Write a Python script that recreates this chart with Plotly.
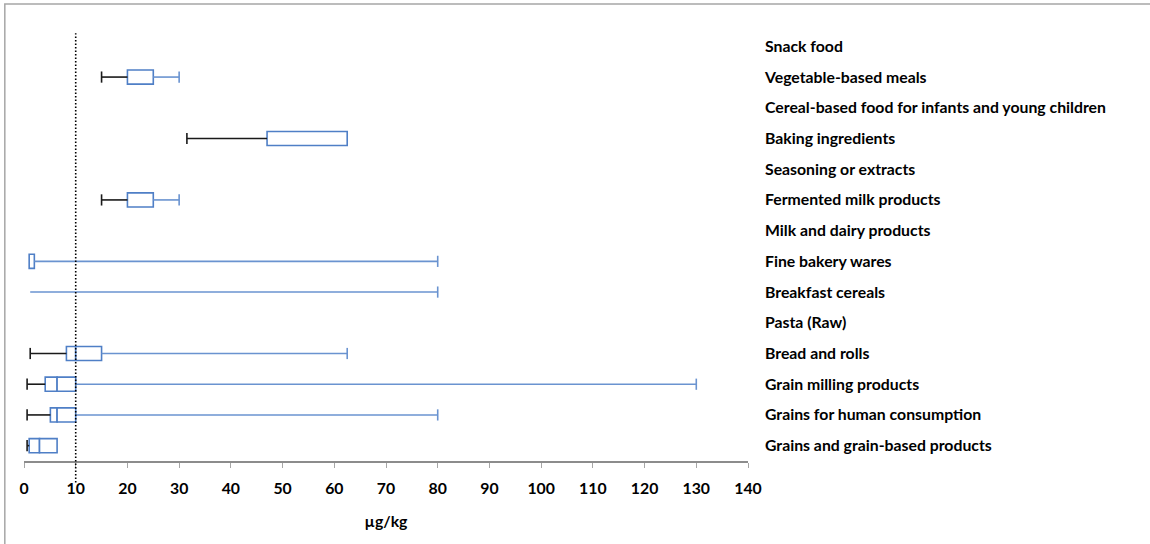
import plotly.graph_objects as go

# Food categories, listed from the bottom row to the top row
categories = [
    "Grains and grain-based products",
    "Grains for human consumption",
    "Grain milling products",
    "Bread and rolls",
    "Pasta (Raw)",
    "Breakfast cereals",
    "Fine bakery wares",
    "Milk and dairy products",
    "Fermented milk products",
    "Seasoning or extracts",
    "Baking ingredients",
    "Cereal-based food for infants and young children",
    "Vegetable-based meals",
    "Snack food",
]

# Summary statistics (µg/kg); None where a value is not reported
minimum = [0.6, 0.6, 0.6, 1.2, None, None, None, None, 15, None, 31.5, None, 15, None]
q1 = [1.0, 5.1, 4.1, 8.2, None, 1.2, 1.0, None, 20, None, 47, None, 20, None]
median = [3.0, 6.4, 6.4, 10, None, 1.2, 1.0, None, 20, None, 47, None, 20, None]
q3 = [6.4, 10, 10, 15, None, 1.2, 2.0, None, 25, None, 62.5, None, 25, None]
maximum = [None, 80, 130, 62.5, None, 80, 80, None, 30, None, None, None, 30, None]

threshold = 10

BOX_LINE = "#4f7fc6"
UPPER = "#6a93d0"
LOWER = "#1a1a1a"
FONT = "Lato"
LABEL_SIZE = 15.8


def span(lo, hi):
    """Width of a segment, or None when it is missing or empty."""
    if lo is None or hi is None or hi - lo <= 0:
        return None
    return hi - lo


fig = go.Figure()

# Box halves: Q1 -> median and median -> Q3
for lo_vals, hi_vals in ((q1, median), (median, q3)):
    widths = [span(a, b) for a, b in zip(lo_vals, hi_vals)]
    fig.add_trace(go.Bar(
        y=categories, x=widths, base=lo_vals, orientation="h",
        width=0.46,
        marker=dict(color="white", line=dict(color=BOX_LINE, width=1.6)),
        showlegend=False, hoverinfo="skip",
    ))


def whisker(starts, ends, cap_at, color):
    xs, ys, cx, cy = [], [], [], []
    for cat, a, b, c in zip(categories, starts, ends, cap_at):
        if a is None or b is None or b == a:
            continue
        xs += [a, b, None]
        ys += [cat, cat, None]
        cx.append(c)
        cy.append(cat)
    fig.add_trace(go.Scatter(
        x=xs, y=ys, mode="lines", line=dict(color=color, width=1.6),
        showlegend=False, hoverinfo="skip",
    ))
    fig.add_trace(go.Scatter(
        x=cx, y=cy, mode="markers",
        marker=dict(symbol="line-ns", size=8, line=dict(color=color, width=1.6)),
        showlegend=False, hoverinfo="skip",
    ))


# Lower whisker (min -> Q1) and upper whisker (Q3 -> max)
whisker(minimum, q1, minimum, LOWER)
whisker(q3, maximum, maximum, UPPER)

# Reference level
fig.add_shape(type="line", xref="x", yref="paper",
              x0=threshold, x1=threshold, y0=-0.05, y1=0.995,
              line=dict(color="black", width=1.6, dash="1.5px,2px"), layer="above")

# Outer chart frame
fig.add_shape(type="rect", xref="paper", yref="paper",
              x0=-0.0265, x1=1.7, y0=-0.3, y1=1.063,
              line=dict(color="#a6a6a6", width=1.5), fillcolor="rgba(0,0,0,0)",
              layer="below")

bold = dict(family=FONT, size=LABEL_SIZE, color="black", weight="bold")

fig.update_layout(
    width=1150, height=544,
    margin=dict(l=24, r=402, t=31, b=83),
    paper_bgcolor="white", plot_bgcolor="white",
    barmode="overlay",
    font=dict(family=FONT, size=LABEL_SIZE, color="black"),
    xaxis=dict(
        range=[0, 140], dtick=10, tick0=0,
        showgrid=False, zeroline=False,
        showline=True, linecolor="#8c8c8c", linewidth=2,
        ticks="outside", ticklen=5, tickcolor="#a6a6a6", tickwidth=1,
        tickfont=bold,
        ticklabelstandoff=7,
        title=dict(text="µg/kg", font=bold, standoff=20),
    ),
    yaxis=dict(
        type="category", categoryorder="array", categoryarray=categories,
        range=[-0.5, len(categories) - 0.5],
        side="right", showgrid=False, zeroline=False, showline=False, ticks="",
        tickfont=bold,
        ticklabelstandoff=16,
    ),
)

fig.write_html("out.html")
